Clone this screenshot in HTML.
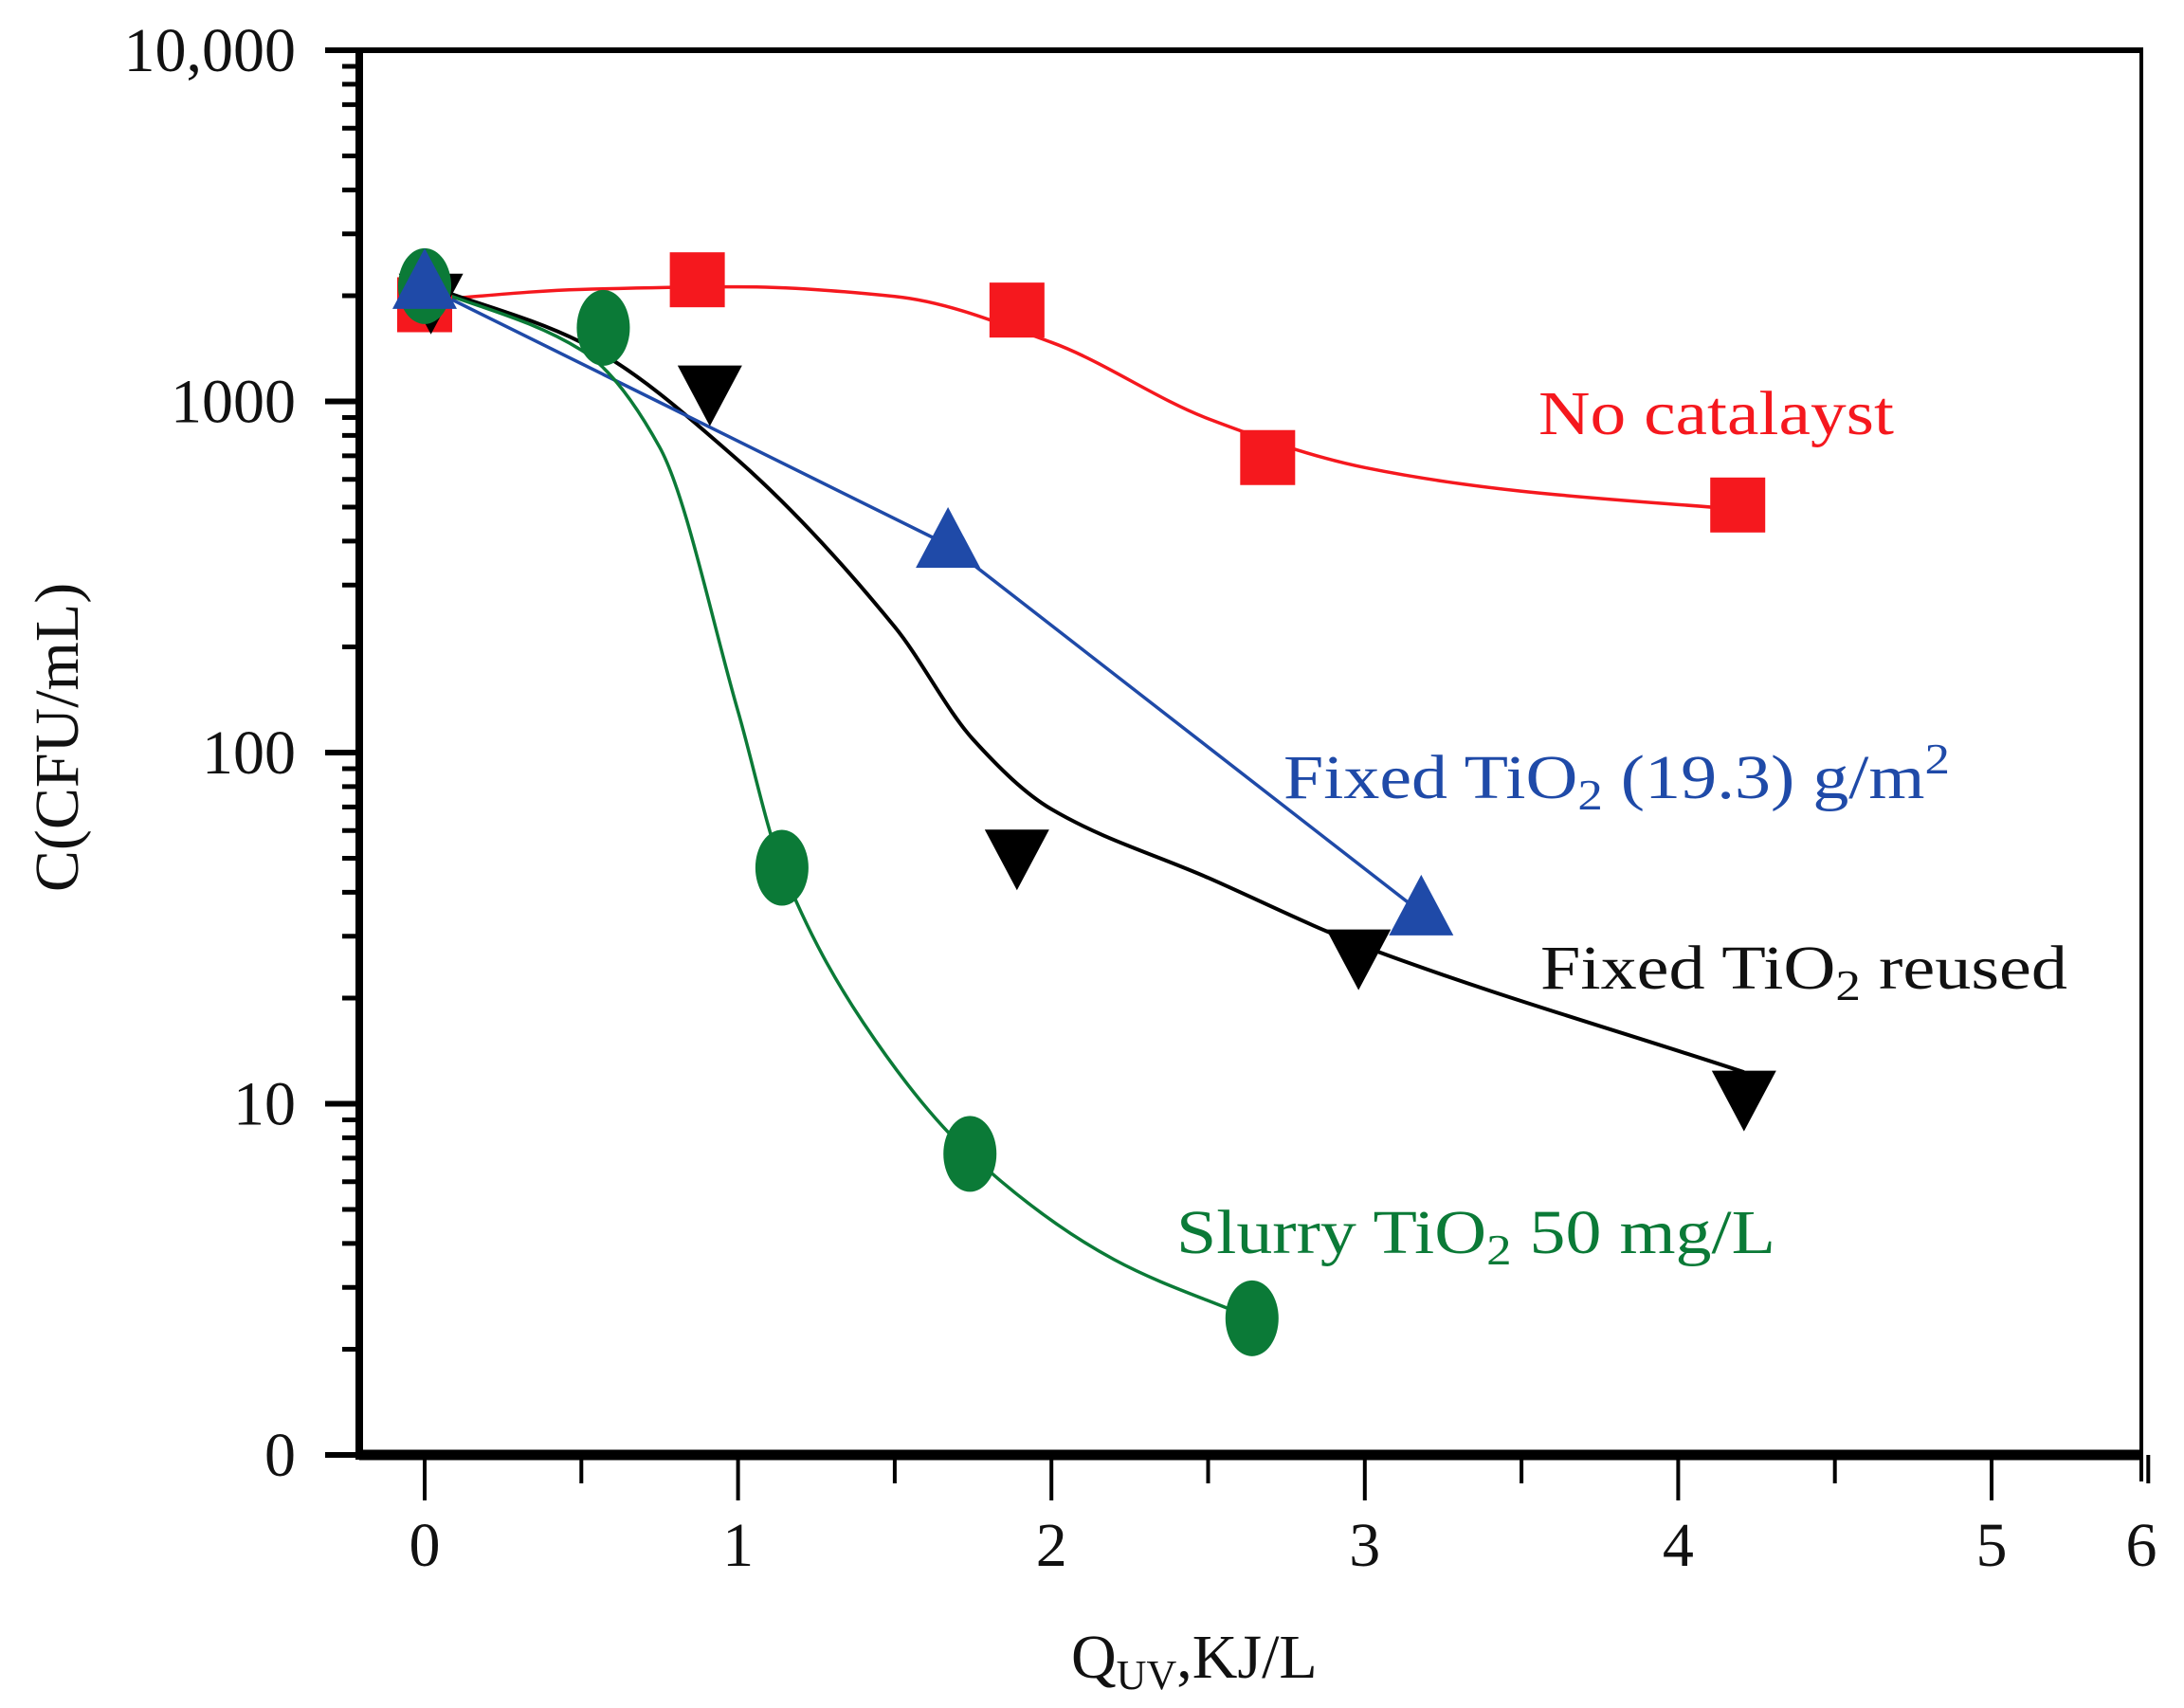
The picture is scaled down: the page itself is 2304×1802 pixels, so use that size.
<!DOCTYPE html>
<html><head><meta charset="utf-8"><style>
html,body{margin:0;padding:0;background:#fff;}
svg{display:block;font-family:"Liberation Serif",serif;}
</style></head><body>
<svg id="chart" width="2304" height="1802" viewBox="0 0 2304 1802" xmlns="http://www.w3.org/2000/svg">
<rect width="2304" height="1802" fill="#fff"/>
<g id="axes"></g>
<g id="series"></g>
<text transform="translate(82,778) rotate(-90)" text-anchor="middle" font-size="66" fill="#111">C(CFU/mL)</text>
<text x="1130" y="1770" font-size="66" fill="#111">Q<tspan font-size="44" dy="12">UV</tspan><tspan dy="-12">,KJ/L</tspan></text>
<text x="1623" y="458" font-size="66" fill="#f5181e" textLength="375" lengthAdjust="spacingAndGlyphs">No catalayst</text>
<text x="1354" y="842" font-size="66" fill="#1f4aa8" textLength="703" lengthAdjust="spacingAndGlyphs">Fixed TiO<tspan font-size="46" dy="12">2</tspan><tspan dy="-12"> (19.3) g/m</tspan><tspan font-size="46" dy="-26">2</tspan></text>
<text x="1625" y="1043" font-size="66" fill="#111" textLength="556" lengthAdjust="spacingAndGlyphs">Fixed TiO<tspan font-size="46" dy="12">2</tspan><tspan dy="-12"> reused</tspan></text>
<text x="1241" y="1322" font-size="66" fill="#0b7a37" textLength="632" lengthAdjust="spacingAndGlyphs">Slurry TiO<tspan font-size="46" dy="12">2</tspan><tspan dy="-12"> 50 mg/L</tspan></text>
</svg>
<script>
const xTicks=[0,1,2,3,4,5];
const xTickLabels=["0","1","2","3","4","5","6"];
const yDecades=[1,10,100,1000,10000];
const yTickLabels=["0","10","100","1000","10,000"];
// measured points
const redX=[0,0.87,1.89,2.69,4.19];
const redY=[1885,2220,1820,692,507];
const blackX=[0.02,0.91,1.89,2.98,4.21];
const blackY=[1990,1090,52,27,10.7];
const blueX=[0,1.67,3.18];
const blueY=[2130,390,35];
const greenX=[0,0.57,1.14,1.74,2.64];
const greenY=[2130,1620,47,7.2,2.45];
// fitted curves
const redFitX=[0,0.5,1.0,1.5,2.0,2.5,3.0,3.5,4.19];
const redFitY=[1937,2084,2120,1990,1473,893,648,555,493];
const blackFitX=[0.02,0.5,1.0,1.5,1.75,2.0,2.5,3.0,4.21];
const blackFitY=[2120,1473,680,228,109,69,44,28,12.3];
const greenFitX=[0,0.5,0.75,1.0,1.14,1.4,1.74,2.2,2.64];
const greenFitY=[2130,1400,740,131,47,17,7.2,3.6,2.45];

const NS="http://www.w3.org/2000/svg";
const L=379,R=2259,T=53,B=1535;
function sx(v){return 448+330.6*v;}
function sy(v){return 1535-370.5*Math.log10(v);}
function mk(tag,attrs,parent){const e=document.createElementNS(NS,tag);for(const k in attrs)e.setAttribute(k,attrs[k]);parent.appendChild(e);return e;}
const axes=document.getElementById('axes');
const series=document.getElementById('series');

let e;
e=mk('line',{x1:L,y1:B,x2:R,y2:B,stroke:'#000','stroke-width':11},axes);


e=mk('line',{x1:L,y1:B+5,x2:L,y2:T,stroke:'#000','stroke-width':8},axes);


e=mk('line',{x1:345,y1:T,x2:R+2,y2:T,stroke:'#000','stroke-width':6},axes);


e=mk('line',{x1:R,y1:T,x2:R,y2:B+28,stroke:'#000','stroke-width':4},axes);



xTicks.forEach((v,i)=>{
  const t=mk('line',{x1:sx(v),y1:B,x2:sx(v),y2:B+48,stroke:'#000','stroke-width':4},axes);
  
  
  const m=mk('line',{x1:sx(v+0.5),y1:B,x2:sx(v+0.5),y2:B+30,stroke:'#000','stroke-width':4},axes);
  
  
  const lb=mk('text',{x:sx(v),y:1652,'text-anchor':'middle','font-size':66,fill:'#111'},axes);
  lb.textContent=xTickLabels[i];
  
  
});
const lb6=mk('text',{x:R,y:1652,'text-anchor':'middle','font-size':66,fill:'#111'},axes);
lb6.textContent=xTickLabels[6];



yDecades.forEach((d,i)=>{
  const y=sy(d);
  const t=mk('line',{x1:343,y1:y,x2:L,y2:y,stroke:'#000','stroke-width':6},axes);
  
  
  const lb=mk('text',{x:312,y:y+22,'text-anchor':'end','font-size':66,fill:'#111'},axes);
  lb.textContent=yTickLabels[i];
  
  
  if(d<10000){for(let k=2;k<=9;k++){
    const yy=sy(d*k);
    const m=mk('line',{x1:361,y1:yy,x2:L,y2:yy,stroke:'#000','stroke-width':5},axes);
    
    
  }}
});

function monotonePath(xs,ys){
  const px=xs.map(sx),py=ys.map(sy),n=px.length;
  const d=[],m=[];
  for(let i=0;i<n-1;i++)d.push((py[i+1]-py[i])/(px[i+1]-px[i]));
  m[0]=d[0];m[n-1]=d[n-2];
  for(let i=1;i<n-1;i++)m[i]=(d[i-1]*d[i]<=0)?0:(2*d[i-1]*d[i])/(d[i-1]+d[i]);
  let s='M'+px[0]+','+py[0];
  for(let i=0;i<n-1;i++){const h=(px[i+1]-px[i])/3;
    s+=' C'+(px[i]+h)+','+(py[i]+m[i]*h)+' '+(px[i+1]-h)+','+(py[i+1]-m[i+1]*h)+' '+px[i+1]+','+py[i+1];}
  return s;
}
function linePath(xs,ys){return xs.map((v,i)=>(i?'L':'M')+sx(v)+','+sy(ys[i])).join(' ');}

const redC='#f5181e',blackC='#000',blueC='#1f4aa8',greenC='#0b7a37';
let p;
p=mk('path',{d:monotonePath(redFitX,redFitY),fill:'none',stroke:redC,'stroke-width':3.5},series);


p=mk('path',{d:monotonePath(blackFitX,blackFitY),fill:'none',stroke:blackC,'stroke-width':4},series);


p=mk('path',{d:linePath(blueX,blueY),fill:'none',stroke:blueC,'stroke-width':3.5},series);


p=mk('path',{d:monotonePath(greenFitX,greenFitY),fill:'none',stroke:greenC,'stroke-width':3.5},series);



redX.forEach((v,i)=>{const cx=sx(v),cy=sy(redY[i]);
  const r=mk('rect',{x:cx-29,y:cy-29,width:58,height:58,fill:redC},series);
  
  });
blackX.forEach((v,i)=>{const cx=sx(v),cy=sy(blackY[i]);
  const t=mk('polygon',{points:(cx-34)+','+(cy-24)+' '+(cx+34)+','+(cy-24)+' '+cx+','+(cy+40),fill:blackC},series);
  
  });
greenX.forEach((v,i)=>{const cx=sx(v),cy=sy(greenY[i]);
  const c=mk('ellipse',{cx:cx,cy:cy,rx:28,ry:40,fill:greenC},series);
  
  });
blueX.forEach((v,i)=>{const cx=sx(v),cy=sy(blueY[i]);
  const t=mk('polygon',{points:(cx-34)+','+(cy+24)+' '+(cx+34)+','+(cy+24)+' '+cx+','+(cy-40),fill:blueC},series);
  
  });
</script>
</body></html>
